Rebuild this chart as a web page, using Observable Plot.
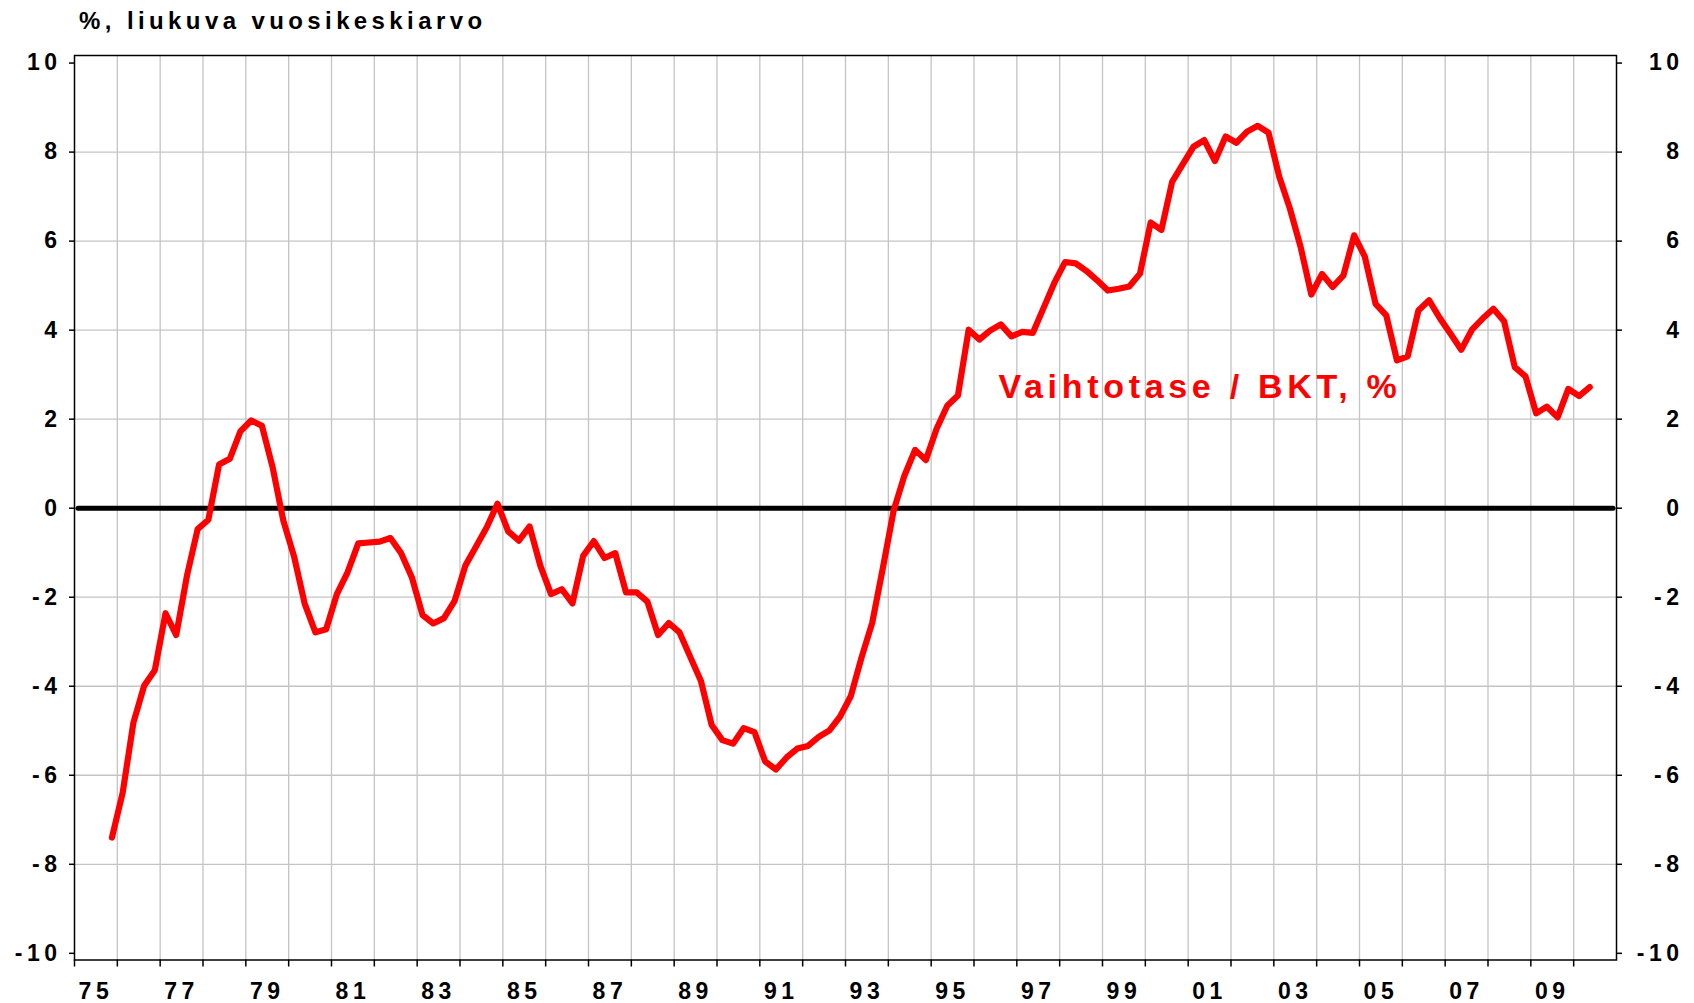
<!DOCTYPE html>
<html>
<head>
<meta charset="utf-8">
<script src="https://cdn.jsdelivr.net/npm/d3@7"></script>
<script src="https://cdn.jsdelivr.net/npm/@observablehq/plot@0.6"></script>
<style>
  html, body { margin: 0; padding: 0; background: #ffffff; }
  #title {
    height: 40px; box-sizing: border-box; padding-left: 79px; padding-top: 9px;
    font: bold 24px/24px "Liberation Sans", Arial, sans-serif; letter-spacing: 4.4px; color: #000;
    white-space: nowrap;
  }
  #chart svg text { letter-spacing: 4.5px; }
</style>
</head>
<body>
<div id="title">%, liukuva vuosikeskiarvo</div>
<div id="chart"></div>
<script>
// ---- Data (quarterly, rolling annual average, % of GDP) ----
const firstYear = 1975;
const firstQuarter = 4;
const values = [
  -7.40,
  -6.39, -4.82, -3.99, -3.64,   // 1976
  -2.36, -2.85, -1.52, -0.47,   // 1977
  -0.26,  0.98,  1.11,  1.73,   // 1978
   1.97,  1.85,  0.92, -0.28,   // 1979
  -1.08, -2.15, -2.79, -2.72,   // 1980
  -1.93, -1.44, -0.79, -0.77,   // 1981
  -0.75, -0.67, -1.01, -1.55,   // 1982
  -2.40, -2.59, -2.47, -2.08,   // 1983
  -1.29, -0.86, -0.43,  0.10,   // 1984
  -0.52, -0.73, -0.41, -1.29,   // 1985
  -1.93, -1.82, -2.14, -1.07,   // 1986
  -0.74, -1.12, -1.01, -1.89,   // 1987
  -1.89, -2.10, -2.85, -2.58,   // 1988
  -2.79, -3.34, -3.88, -4.87,   // 1989
  -5.21, -5.29, -4.94, -5.03,   // 1990
  -5.69, -5.87, -5.60, -5.40,   // 1991
  -5.34, -5.14, -4.99, -4.68,   // 1992
  -4.22, -3.35, -2.57, -1.33,   // 1993
  -0.05,  0.73,  1.31,  1.08,   // 1994
   1.78,  2.30,  2.53,  4.01,   // 1995
   3.79,  3.99,  4.13,  3.86,   // 1996
   3.96,  3.94,  4.50,  5.06,   // 1997
   5.53,  5.50,  5.33,  5.12,   // 1998
   4.89,  4.93,  4.98,  5.27,   // 1999
   6.42,  6.25,  7.33,  7.73,   // 2000
   8.12,  8.27,  7.80,  8.35,   // 2001
   8.21,  8.46,  8.59,  8.44,   // 2002
   7.45,  6.73,  5.87,  4.80,   // 2003
   5.26,  4.97,  5.23,  6.13,   // 2004
   5.65,  4.59,  4.33,  3.32,   // 2005
   3.41,  4.44,  4.67,  4.27,   // 2006
   3.92,  3.56,  4.01,  4.26,   // 2007
   4.48,  4.20,  3.17,  2.96,   // 2008
   2.13,  2.28,  2.04,  2.68,   // 2009
   2.52,  2.72                  // 2010
];

const xLabels = ["75","77","79","81","83","85","87","89","91","93","95","97","99","01","03","05","07","09"];
const xLabelYears = [1975,1977,1979,1981,1983,1985,1987,1989,1991,1993,1995,1997,1999,2001,2003,2005,2007,2009];
const yTicks = [-10, -8, -6, -4, -2, 0, 2, 4, 6, 8, 10];
const yGrid = [-8, -6, -4, -2, 0, 2, 4, 6, 8];
const seriesLabel = "Vaihtotase / BKT, %";
const seriesLabelAt = {x: 1996.57, y: 2.47};

// ---- Build table ----
const data = values.map((v, i) => {
  const k = firstQuarter - 1 + i;
  return {t: firstYear + Math.floor(k / 4) + ((k % 4) + 0.5) / 4, v};
});
const yearTicks = d3.range(1975, 2011);
const yearGrid = d3.range(1976, 2011);
const labelPos = xLabelYears.map(y => y + 0.5);
const labelOf = new Map(labelPos.map((p, i) => [p, xLabels[i]]));

const font = "Liberation Sans, Arial, sans-serif";

const plot = Plot.plot({
  width: 1694,
  height: 963,
  marginTop: 15,
  marginLeft: 74,
  marginRight: 78,
  marginBottom: 43.5,
  style: {fontFamily: font, background: "#ffffff", overflow: "visible", color: "#000"},
  x: {type: "linear", domain: [1975, 2011]},
  y: {domain: [-10.15, 10.17]},
  marks: [
    Plot.gridX(yearGrid, {stroke: "#c4c4c4", strokeOpacity: 1, strokeWidth: 1.3}),
    Plot.gridY(yGrid, {stroke: "#c4c4c4", strokeOpacity: 1, strokeWidth: 1.3}),
    Plot.frame({stroke: "#000", strokeWidth: 1.5}),
    Plot.ruleY([0], {stroke: "#000", strokeWidth: 5, insetLeft: 4, insetRight: 3, strokeLinecap: "round"}),
    Plot.line(data, {x: "t", y: "v", stroke: "#ff0000", strokeWidth: 6.2, strokeLinejoin: "round", strokeLinecap: "round"}),
    Plot.text([seriesLabel], {
      x: () => seriesLabelAt.x, y: () => seriesLabelAt.y, text: d => d,
      fill: "#ff0000", fontSize: 34, fontWeight: "bold", textAnchor: "start", lineAnchor: "bottom"
    }),
    Plot.axisY(yTicks, {anchor: "left", tickSize: 5, tickPadding: 8, strokeWidth: 1.5,
      tickFormat: d => String(d), fontSize: 23, fontWeight: "bold", label: null}),
    Plot.axisY(yTicks, {anchor: "right", tickSize: 5, tickPadding: 62, strokeWidth: 1.5, textAnchor: "end",
      tickFormat: d => String(d), fontSize: 23, fontWeight: "bold", label: null}),
    Plot.axisX(yearTicks, {anchor: "bottom", tickSize: 7, strokeWidth: 1.5, tickFormat: () => "", label: null}),
    Plot.axisX(labelPos, {anchor: "bottom", tickSize: 0, tickPadding: 23,
      tickFormat: d => labelOf.get(d), fontSize: 23, fontWeight: "bold", label: null})
  ]
});

document.getElementById("chart").appendChild(plot);
d3.select(plot).selectAll("g[aria-label='text'] text").style("letter-spacing", "4.7px");
</script>
</body>
</html>
